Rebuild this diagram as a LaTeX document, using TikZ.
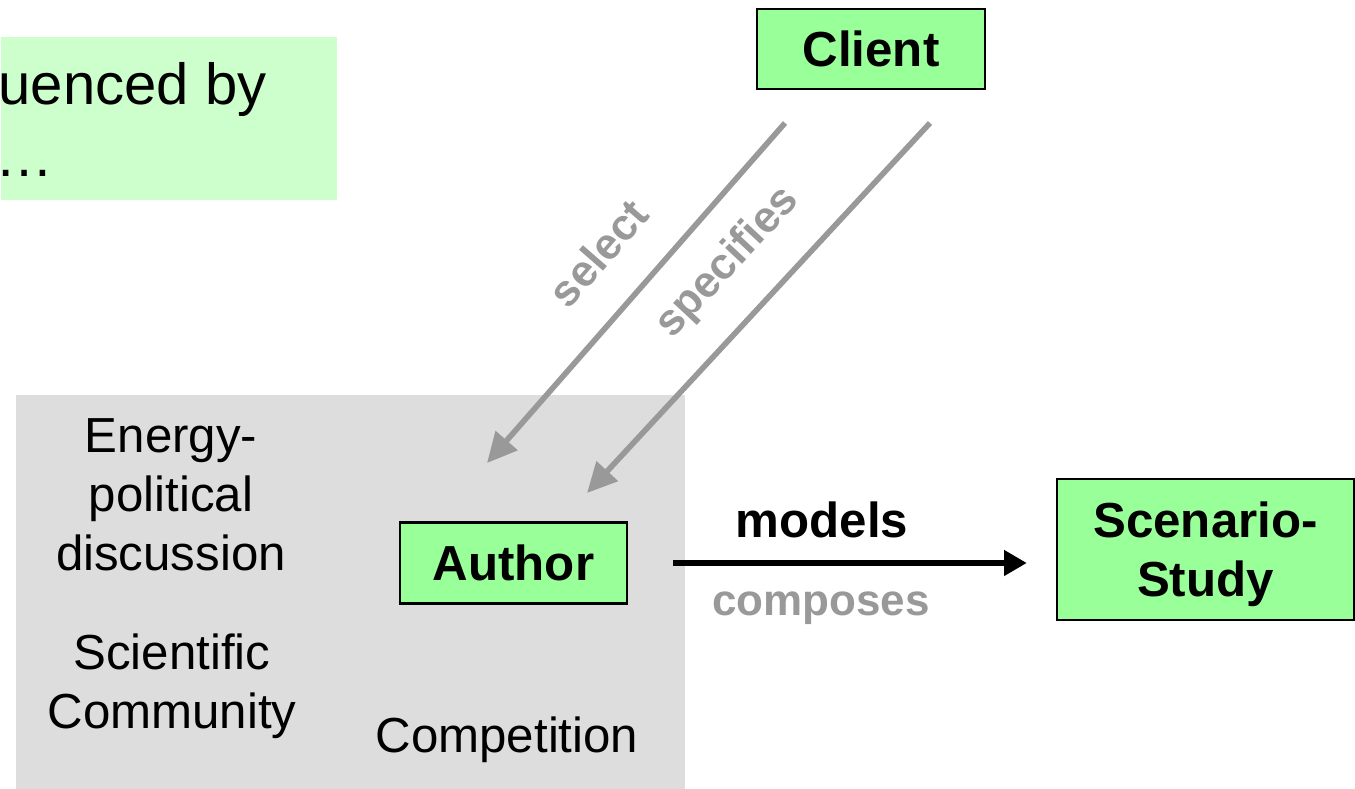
\documentclass[tikz,border=0pt]{standalone}
\usepackage{fontspec}
\setmainfont{Liberation Sans}
\usetikzlibrary{arrows.meta}
\definecolor{notegreen}{HTML}{CCFFCC}
\definecolor{boxgreen}{HTML}{99FF99}
\definecolor{panelgray}{HTML}{DDDDDD}
\definecolor{arrowgray}{HTML}{999999}
\tikzset{
  role/.style={draw=black, fill=boxgreen, line width=0.6pt, inner sep=0pt, align=center,
    font=\bfseries\fontsize{14}{16.8}\selectfont},
  plain/.style={align=center, inner sep=0pt, font=\fontsize{14}{16.8}\selectfont},
  graylabel/.style={text=arrowgray, inner sep=0pt, font=\bfseries\fontsize{12.5}{15}\selectfont},
  grayarrow/.style={draw=arrowgray, line width=1.6pt, -{Triangle[length=8.5pt,width=8pt]}},
  blackarrow/.style={draw=black, line width=1.8pt, -{Triangle[length=6.5pt,width=7pt]}},
}
\begin{document}
\begin{tikzpicture}[x=0.01cm, y=-0.01cm]
  \useasboundingbox (0,0) rectangle (1355,789);
  % background areas
  \node (note) [fill=notegreen, inner sep=0pt, anchor=north west,
    minimum width=3.36cm, minimum height=1.63cm] at (0,36) {};
  \node (influence) [fill=panelgray, inner sep=0pt, anchor=north west,
    minimum width=6.69cm, minimum height=3.95cm] at (15,394) {};
  \node (influenced) [inner sep=0pt, anchor=base west, font=\fontsize{16.5}{20}\selectfont]
    at (-2,105) {uenced by};
  \node (dots) [inner sep=0pt, anchor=base west, font=\fontsize{16.5}{20}\selectfont]
    at (-5,177) {…};
  % actors
  \node (client) [role, minimum width=2.28cm, minimum height=0.80cm] at (871,49) {Client};
  \node (author) [role, minimum width=2.27cm, minimum height=0.81cm] at (513.5,563) {Author};
  \node (scenario) [role, text depth=0pt, minimum width=2.97cm, minimum height=1.41cm]
    at (1205.5,549.5) {Scenario-\\Study};
  % influences
  \node (energy) [plain] at (171,495) {Energy-\\political\\discussion};
  \node (science) [plain] at (172,686) {Scientific\\Community};
  \node (competition) [plain] at (507,740) {Competition};
  % connectors
  \coordinate (select-from) at (785,123);
  \coordinate (select-to) at (487,463);
  \coordinate (spec-from) at (930,123);
  \coordinate (spec-to) at (587,493);
  \draw[grayarrow] (select-from) -- (select-to);
  \draw[grayarrow] (spec-from) -- (spec-to);
  \node (select) [graylabel, rotate=49] at (598,253) {select};
  \node (specifies) [graylabel, rotate=47] at (728,263) {specifies};
  \draw[blackarrow, shorten <=0.45cm, shorten >=0.29cm] (author.east) -- (author.east -| scenario.west);
  \node (models) [inner sep=0pt, font=\bfseries\fontsize{14}{16.8}\selectfont] at (822,520) {models};
  \node (composes) [graylabel] at (821,608) {composes};
\end{tikzpicture}
\end{document}
